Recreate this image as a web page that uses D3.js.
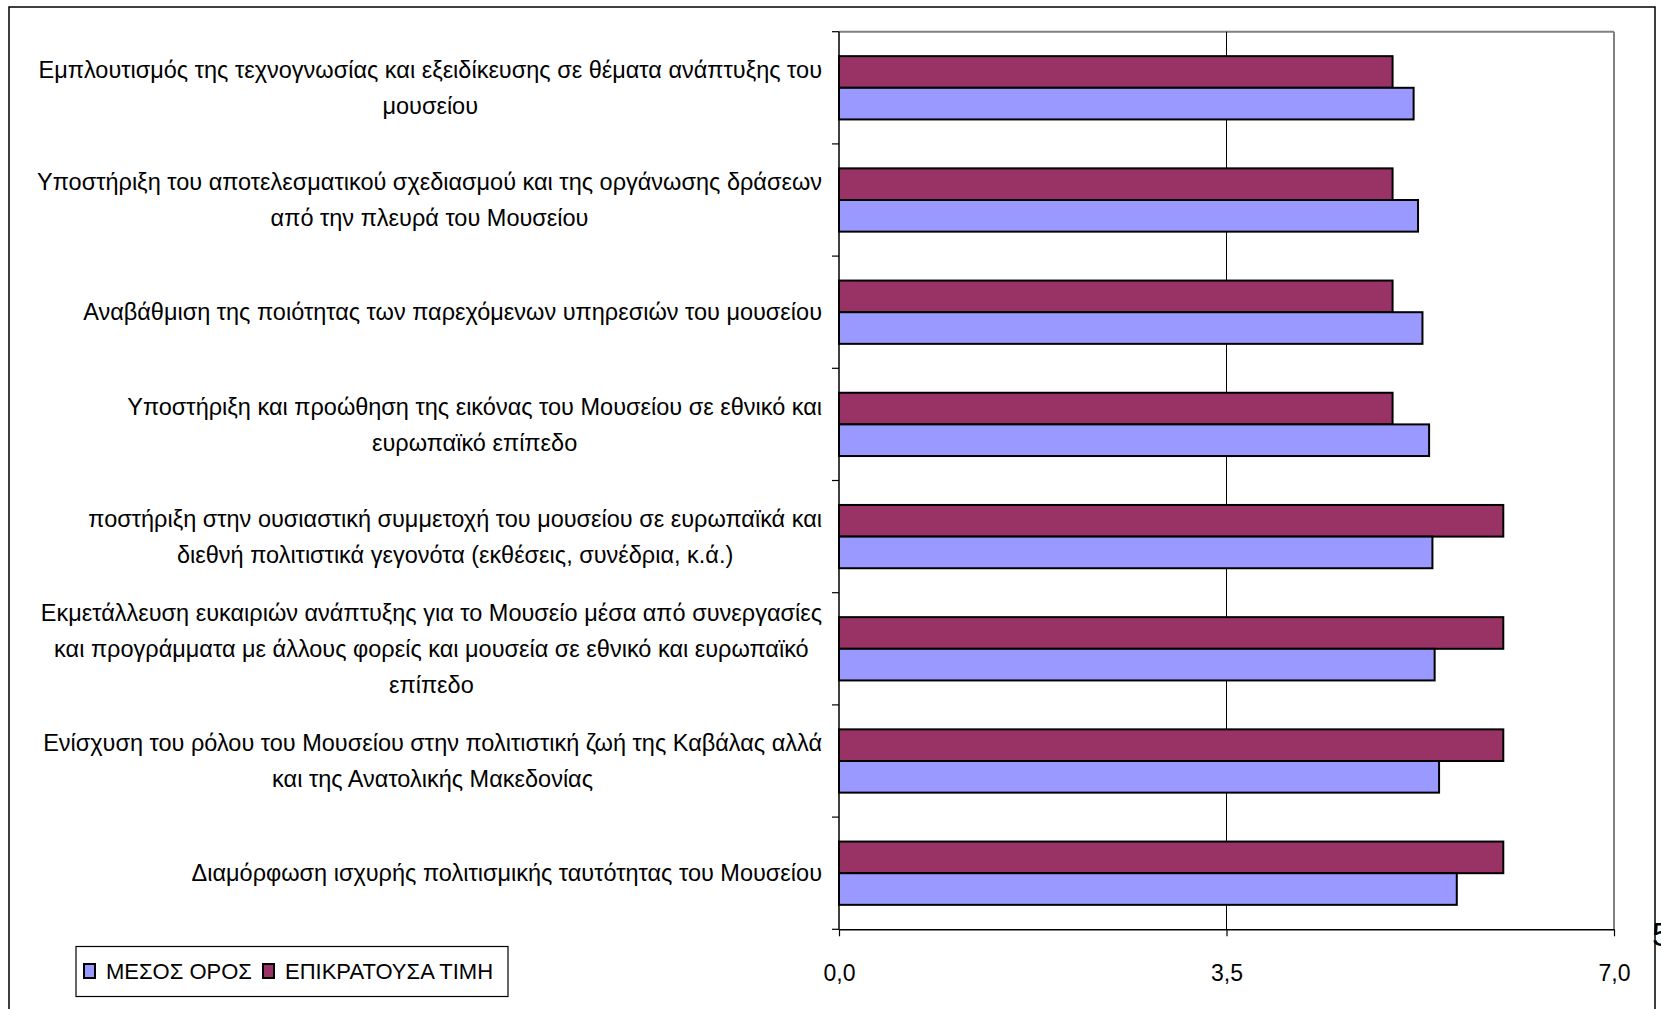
<!DOCTYPE html>
<html>
<head>
<meta charset="utf-8">
<script src="https://cdn.jsdelivr.net/npm/d3@7"></script>
<style>
  html, body { margin: 0; padding: 0; background: #fff; }
  svg { display: block; }
  text { font-family: "Liberation Sans", Arial, sans-serif; fill: #000; }
</style>
</head>
<body>
<svg id="chart" width="1661" height="1009"></svg>
<script>
// Category labels, top to bottom, with their line breaks
const categories = [
  ["Εμπλουτισμός της τεχνογνωσίας και εξειδίκευσης σε θέματα ανάπτυξης του", "μουσείου"],
  ["Υποστήριξη του αποτελεσματικού σχεδιασμού και της οργάνωσης δράσεων", "από την πλευρά του Μουσείου"],
  ["Αναβάθμιση της ποιότητας των παρεχόμενων υπηρεσιών του μουσείου"],
  ["Υποστήριξη και προώθηση της εικόνας του Μουσείου σε εθνικό και", "ευρωπαϊκό επίπεδο"],
  ["ποστήριξη στην ουσιαστική συμμετοχή του μουσείου σε ευρωπαϊκά και", "διεθνή πολιτιστικά γεγονότα (εκθέσεις, συνέδρια, κ.ά.)"],
  ["Εκμετάλλευση ευκαιριών ανάπτυξης για το Μουσείο μέσα από συνεργασίες", "και προγράμματα με άλλους φορείς και μουσεία σε εθνικό και ευρωπαϊκό", "επίπεδο"],
  ["Ενίσχυση του ρόλου του Μουσείου στην πολιτιστική ζωή της Καβάλας αλλά", "και της Ανατολικής Μακεδονίας"],
  ["Διαμόρφωση ισχυρής πολιτισμικής ταυτότητας του Μουσείου"]
];

// Series names (legend order) and values per category
const seriesNames = ["ΜΕΣΟΣ ΟΡΟΣ", "ΕΠΙΚΡΑΤΟΥΣΑ ΤΙΜΗ"];
const meanValues = [5.19, 5.23, 5.27, 5.33, 5.36, 5.38, 5.42, 5.58];
const modeValues = [5, 5, 5, 5, 6, 6, 6, 6];
const seriesColors = ["#9999FF", "#993366"];

// Value axis ticks
const xTicks = [0, 3.5, 7];
const xTickLabels = ["0,0", "3,5", "7,0"];

const svg = d3.select("#chart");

const plot = { left: 839, right: 1614, top: 31.7, bottom: 929.3 };
const labelRight = 822;

// Outer chart frame (bottom edge runs past the page)
svg.append("rect")
  .attr("x", 9).attr("y", 7)
  .attr("width", 1655 - 9).attr("height", 1040)
  .attr("fill", "none").attr("stroke", "#000").attr("stroke-width", 1.5);

const x = d3.scaleLinear().domain([0, 7]).range([plot.left, plot.right]);
const idx = d3.range(categories.length);
const y = d3.scaleBand().domain(idx).range([plot.top, plot.bottom]).padding(0);

const band = y.bandwidth();
const groupGap = band * 0.436 / 2;
// Within each category, ΕΠΙΚΡΑΤΟΥΣΑ ΤΙΜΗ sits on top, ΜΕΣΟΣ ΟΡΟΣ below
const ySub = d3.scaleBand().domain([1, 0]).range([groupGap, band - groupGap]).padding(0);

// Plot-area border: grey top and right
svg.append("line")
  .attr("x1", plot.left).attr("x2", plot.right)
  .attr("y1", plot.top).attr("y2", plot.top)
  .attr("stroke", "#808080").attr("stroke-width", 2);
svg.append("line")
  .attr("x1", plot.right).attr("x2", plot.right)
  .attr("y1", plot.top).attr("y2", plot.bottom)
  .attr("stroke", "#808080").attr("stroke-width", 2);

// Vertical gridline at the middle tick
svg.append("g").selectAll("line")
  .data(xTicks.filter(t => t > 0 && t < 7))
  .join("line")
  .attr("x1", d => x(d)).attr("x2", d => x(d))
  .attr("y1", plot.top).attr("y2", plot.bottom)
  .attr("stroke", "#000").attr("stroke-width", 1);

// Bars
const seriesVals = [meanValues, modeValues];
const barData = [];
idx.forEach(i => {
  [1, 0].forEach(s => barData.push({ i, s, v: seriesVals[s][i] }));
});
svg.append("g").selectAll("rect")
  .data(barData)
  .join("rect")
  .attr("x", x(0))
  .attr("y", d => y(d.i) + ySub(d.s))
  .attr("width", d => x(d.v) - x(0))
  .attr("height", ySub.bandwidth())
  .attr("fill", d => seriesColors[d.s])
  .attr("stroke", "#000")
  .attr("stroke-width", 2);

// Value axis
const xAxis = d3.axisBottom(x)
  .tickValues(xTicks)
  .tickFormat((d, i) => xTickLabels[i])
  .tickSize(7)
  .tickSizeOuter(0)
  .tickPadding(28);
const gx = svg.append("g")
  .attr("transform", `translate(0,${plot.bottom})`)
  .call(xAxis);
gx.select(".domain").attr("stroke", "#000").attr("stroke-width", 1.5);
gx.selectAll(".tick line").attr("stroke", "#000").attr("stroke-width", 1.2);
gx.selectAll(".tick text")
  .attr("font-size", 23)
  .style("font-family", '"Liberation Sans", Arial, sans-serif');

// Category axis: line and boundary ticks
svg.append("line")
  .attr("x1", plot.left).attr("x2", plot.left)
  .attr("y1", plot.top).attr("y2", plot.bottom)
  .attr("stroke", "#000").attr("stroke-width", 1.5);
const boundaries = d3.range(categories.length + 1).map(k => plot.top + k * band);
svg.append("g").selectAll("line")
  .data(boundaries)
  .join("line")
  .attr("x1", plot.left - 7).attr("x2", plot.left)
  .attr("y1", d => d).attr("y2", d => d)
  .attr("stroke", "#000").attr("stroke-width", 1.2);

// Category labels: each block centred, right edge aligned next to the axis
const lineH = 35.8;
const labels = svg.append("g").selectAll("text")
  .data(categories)
  .join("text")
  .attr("font-size", 23.5)
  .attr("text-anchor", "middle");
labels.each(function (lines, i) {
  const t = d3.select(this);
  const cy = y(i) + band / 2;
  const y0 = cy - (lines.length - 1) * lineH / 2;
  lines.forEach((ln, k) => {
    t.append("tspan")
      .attr("x", 0)
      .attr("y", y0 + k * lineH)
      .attr("dy", "0.35em")
      .text(ln);
  });
  let maxW = 0;
  t.selectAll("tspan").each(function () {
    maxW = Math.max(maxW, this.getComputedTextLength());
  });
  const cx = labelRight - maxW / 2;
  t.selectAll("tspan").attr("x", cx);
});

// Legend
const legend = svg.append("g");
legend.append("rect")
  .attr("x", 76).attr("y", 946.5)
  .attr("width", 432).attr("height", 50)
  .attr("fill", "#fff").attr("stroke", "#000").attr("stroke-width", 1.2);
const legendX = [84, 263];
seriesNames.forEach((name, s) => {
  legend.append("rect")
    .attr("x", legendX[s]).attr("y", 964)
    .attr("width", 11).attr("height", 14)
    .attr("fill", seriesColors[s]).attr("stroke", "#000").attr("stroke-width", 2);
  legend.append("text")
    .attr("x", legendX[s] + 22).attr("y", 979)
    .attr("font-size", 22)
    .text(name);
});

// Stray page digit peeking at the right edge
svg.append("text")
  .attr("x", 1652).attr("y", 946)
  .attr("font-size", 34)
  .text("5");
</script>
</body>
</html>
